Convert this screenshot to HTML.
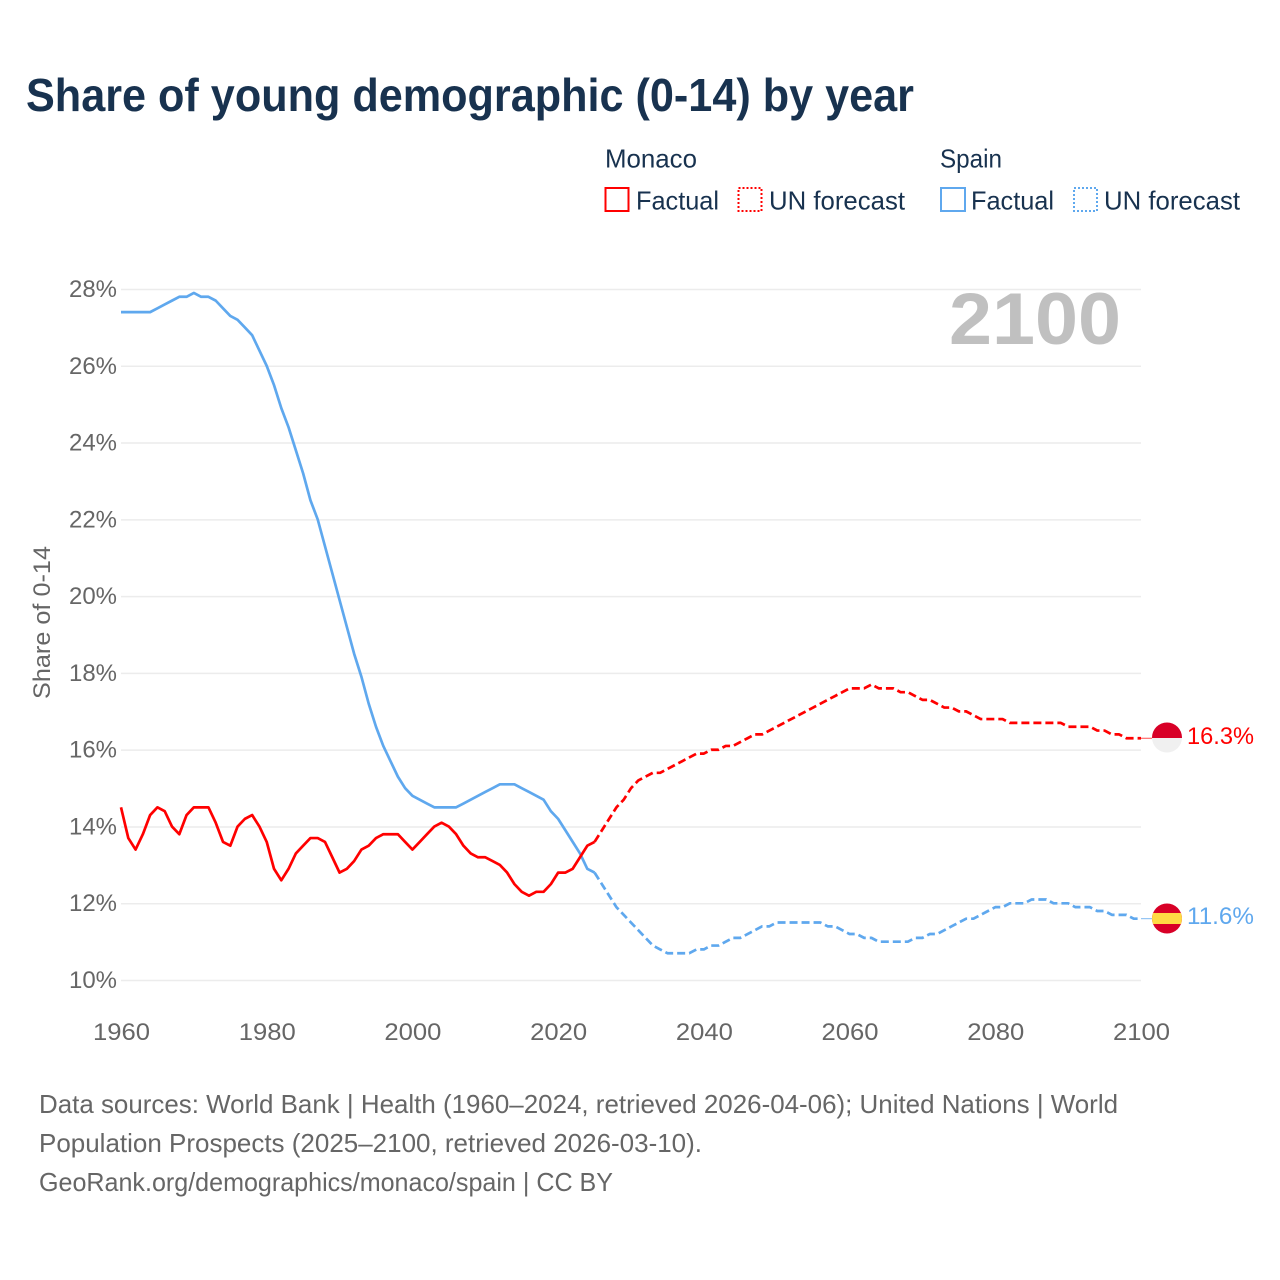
<!DOCTYPE html>
<html lang="en">
<head>
<meta charset="utf-8">
<title>Share of young demographic (0-14) by year</title>
<style>
html,body{margin:0;padding:0;background:#fff;}
svg{display:block;font-family:"Liberation Sans",sans-serif;}
</style>
</head>
<body>
<svg id="chart" xmlns="http://www.w3.org/2000/svg" width="1280" height="1280" viewBox="0 0 1280 1280">
  <rect width="1280" height="1280" fill="#fff"/>
  <text x="26" y="111" font-size="46" font-weight="700" fill="#18324f" textLength="888" lengthAdjust="spacingAndGlyphs">Share of young demographic (0-14) by year</text>

  <g font-size="26" fill="#18324f">
    <text x="605" y="167.500" textLength="92" lengthAdjust="spacingAndGlyphs">Monaco</text>
    <text x="940" y="167.500" textLength="62" lengthAdjust="spacingAndGlyphs">Spain</text>
    <rect x="605.500" y="188" width="23" height="23" fill="none" stroke="#ff0000" stroke-width="2"/>
    <text x="636" y="209.500" textLength="83" lengthAdjust="spacingAndGlyphs">Factual</text>
    <rect x="738.500" y="188" width="23" height="23" fill="none" stroke="#ff0000" stroke-width="2" stroke-dasharray="2 2"/>
    <text x="769" y="209.500" textLength="136" lengthAdjust="spacingAndGlyphs">UN forecast</text>
    <rect x="941" y="188" width="24" height="23" fill="none" stroke="#5fa8ee" stroke-width="2"/>
    <text x="971" y="209.500" textLength="83" lengthAdjust="spacingAndGlyphs">Factual</text>
    <rect x="1074" y="188" width="23" height="23" fill="none" stroke="#5fa8ee" stroke-width="2" stroke-dasharray="2 2"/>
    <text x="1104" y="209.500" textLength="136" lengthAdjust="spacingAndGlyphs">UN forecast</text>
  </g>

  <g id="grid"></g>
  <g id="yticks" font-size="24" fill="#666"></g>
  <g id="xticks" font-size="24" fill="#666"></g>
  <text transform="translate(50,622.500) rotate(-90)" text-anchor="middle" font-size="24" fill="#666" textLength="153" lengthAdjust="spacingAndGlyphs">Share of 0-14</text>
  <text x="949" y="344" font-size="73" font-weight="700" fill="#c0c0c0" textLength="172" lengthAdjust="spacingAndGlyphs">2100</text>
  <g id="series"></g>

  <defs>
    <clipPath id="flag-clip-mc"><circle cx="1167" cy="737.500" r="15"/></clipPath>
    <clipPath id="flag-clip-es"><circle cx="1167" cy="918.500" r="15"/></clipPath>
  </defs>
  <g clip-path="url(#flag-clip-mc)">
    <rect x="1152" y="722" width="30" height="16" fill="#d80027"/>
    <rect x="1152" y="738" width="30" height="16" fill="#f0f0f0"/>
  </g>
  <g clip-path="url(#flag-clip-es)">
    <rect x="1152" y="903" width="30" height="31" fill="#d80027"/>
    <rect x="1152" y="913" width="30" height="11" fill="#ffda44"/>
  </g>
  <text x="1187" y="744" font-size="24" fill="#ff0000" textLength="67" lengthAdjust="spacingAndGlyphs">16.3%</text>
  <text x="1187" y="924" font-size="24" fill="#5fa8ee" textLength="67" lengthAdjust="spacingAndGlyphs">11.6%</text>

  <g font-size="26" fill="#666">
    <text x="39" y="1113" textLength="1079" lengthAdjust="spacingAndGlyphs">Data sources: World Bank | Health (1960–2024, retrieved 2026-04-06); United Nations | World</text>
    <text x="39" y="1152" textLength="663" lengthAdjust="spacingAndGlyphs">Population Prospects (2025–2100, retrieved 2026-03-10).</text>
    <text x="39" y="1191" textLength="574" lengthAdjust="spacingAndGlyphs">GeoRank.org/demographics/monaco/spain | CC BY</text>
  </g>
</svg>
<script>
const yTickValues = [10, 12, 14, 16, 18, 20, 22, 24, 26, 28];
const xTickValues = [1960, 1980, 2000, 2020, 2040, 2060, 2080, 2100];
const factualStartYear = 1960;
const forecastStartYear = 2025;
const monacoFactual = [
  14.5,13.7,13.4,13.8,14.3,14.5,14.4,14.0,13.8,14.3,
  14.5,14.5,14.5,14.1,13.6,13.5,14.0,14.2,14.3,14.0,
  13.6,12.9,12.6,12.9,13.3,13.5,13.7,13.7,13.6,13.2,
  12.8,12.9,13.1,13.4,13.5,13.7,13.8,13.8,13.8,13.6,
  13.4,13.6,13.8,14.0,14.1,14.0,13.8,13.5,13.3,13.2,
  13.2,13.1,13.0,12.8,12.5,12.3,12.2,12.3,12.3,12.5,
  12.8,12.8,12.9,13.2,13.5,13.6
];
const monacoForecast = [
  13.6,13.9,14.2,14.5,14.7,15.0,15.2,15.3,15.4,15.4,
  15.5,15.6,15.7,15.8,15.9,15.9,16.0,16.0,16.1,16.1,
  16.2,16.3,16.4,16.4,16.5,16.6,16.7,16.8,16.9,17.0,
  17.1,17.2,17.3,17.4,17.5,17.6,17.6,17.6,17.7,17.6,
  17.6,17.6,17.5,17.5,17.4,17.3,17.3,17.2,17.1,17.1,
  17.0,17.0,16.9,16.8,16.8,16.8,16.8,16.7,16.7,16.7,
  16.7,16.7,16.7,16.7,16.7,16.6,16.6,16.6,16.6,16.5,
  16.5,16.4,16.4,16.3,16.3,16.3
];
const spainFactual = [
  27.4,27.4,27.4,27.4,27.4,27.5,27.6,27.7,27.8,27.8,
  27.9,27.8,27.8,27.7,27.5,27.3,27.2,27.0,26.8,26.4,
  26.0,25.5,24.9,24.4,23.8,23.2,22.5,22.0,21.3,20.6,
  19.9,19.2,18.5,17.9,17.2,16.6,16.1,15.7,15.3,15.0,
  14.8,14.7,14.6,14.5,14.5,14.5,14.5,14.6,14.7,14.8,
  14.9,15.0,15.1,15.1,15.1,15.0,14.9,14.8,14.7,14.4,
  14.2,13.9,13.6,13.3,12.9,12.8
];
const spainForecast = [
  12.8,12.5,12.2,11.9,11.7,11.5,11.3,11.1,10.9,10.8,
  10.7,10.7,10.7,10.7,10.8,10.8,10.9,10.9,11.0,11.1,
  11.1,11.2,11.3,11.4,11.4,11.5,11.5,11.5,11.5,11.5,
  11.5,11.5,11.4,11.4,11.3,11.2,11.2,11.1,11.1,11.0,
  11.0,11.0,11.0,11.0,11.1,11.1,11.2,11.2,11.3,11.4,
  11.5,11.6,11.6,11.7,11.8,11.9,11.9,12.0,12.0,12.0,
  12.1,12.1,12.1,12.0,12.0,12.0,11.9,11.9,11.9,11.8,
  11.8,11.7,11.7,11.7,11.6,11.6
];

const NS = 'http://www.w3.org/2000/svg';
const plotLeft = 121, plotRight = 1141, plotTop = 289.5, plotBottom = 980.5;
const xScale = year => plotLeft + (year - 1960) / (2100 - 1960) * (plotRight - plotLeft);
const yScale = pct => plotBottom - (pct - 10) / (28 - 10) * (plotBottom - plotTop);

function svgEl(tag, attrs, parent) {
  const el = document.createElementNS(NS, tag);
  for (const k in attrs) el.setAttribute(k, attrs[k]);
  parent.appendChild(el);
  return el;
}

const grid = document.getElementById('grid');
const yticks = document.getElementById('yticks');
const xticks = document.getElementById('xticks');
const series = document.getElementById('series');

yTickValues.forEach(v => {
  const line = svgEl('line', {x1: plotLeft, x2: plotRight, y1: yScale(v), y2: yScale(v), stroke: '#ececec', 'stroke-width': 1.5}, grid);
  
  
  const label = svgEl('text', {x: 117, y: yScale(v) + 7.5, 'text-anchor': 'end', textLength: 48, lengthAdjust: 'spacingAndGlyphs'}, yticks);
  
  
  label.textContent = v + '%';
});

xTickValues.forEach(v => {
  const label = svgEl('text', {x: xScale(v) + 0.5, y: 1040, 'text-anchor': 'middle', textLength: 57, lengthAdjust: 'spacingAndGlyphs'}, xticks);
  
  
  label.textContent = v;
});

function linePath(values, startYear) {
  return values.map((v, i) => (i ? 'L' : 'M') + xScale(startYear + i).toFixed(2) + ' ' + (yScale(v) - 0.4).toFixed(2)).join('');
}

function drawSeries(values, startYear, color, dashed, name) {
  const attrs = {d: linePath(values, startYear), fill: 'none', stroke: color, 'stroke-width': 2.7, 'stroke-linejoin': 'round'};
  if (dashed) attrs['stroke-dasharray'] = '8 4';
  const path = svgEl('path', attrs, series);
  
  
}

drawSeries(spainFactual, factualStartYear, '#5fa8ee', false, 'spain-factual-line');
drawSeries(spainForecast, forecastStartYear, '#5fa8ee', true, 'spain-forecast-line');
drawSeries(monacoFactual, factualStartYear, '#ff0000', false, 'monaco-factual-line');
drawSeries(monacoForecast, forecastStartYear, '#ff0000', true, 'monaco-forecast-line');

const monacoLink = svgEl('line', {x1: plotRight, x2: 1152, y1: yScale(monacoForecast[monacoForecast.length - 1]) - 0.4, y2: yScale(monacoForecast[monacoForecast.length - 1]) - 0.4, stroke: '#ff0000', 'stroke-width': 1, 'stroke-opacity': 0.7}, series);


const spainLink = svgEl('line', {x1: plotRight, x2: 1152, y1: yScale(spainForecast[spainForecast.length - 1]) - 0.4, y2: yScale(spainForecast[spainForecast.length - 1]) - 0.4, stroke: '#5fa8ee', 'stroke-width': 1, 'stroke-opacity': 0.8}, series);


</script>
</body>
</html>
